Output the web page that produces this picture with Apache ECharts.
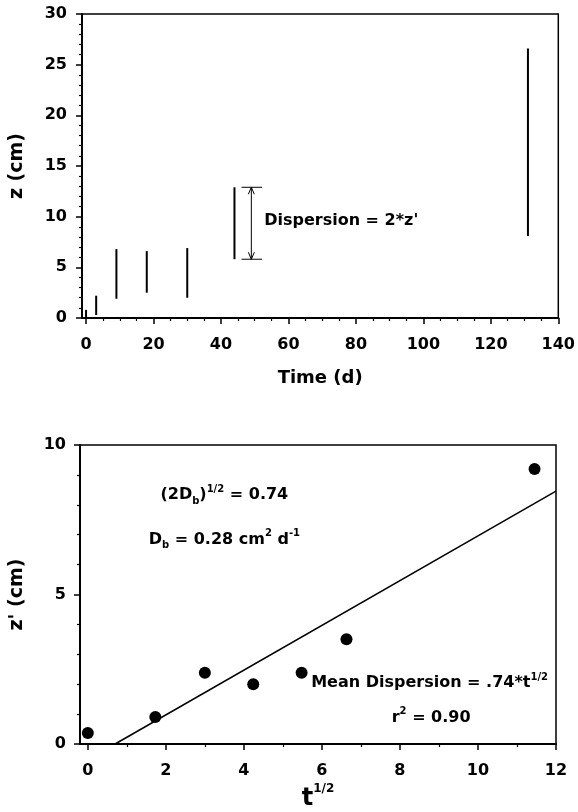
<!DOCTYPE html>
<html>
<head>
<meta charset="utf-8">
<script src="https://cdn.jsdelivr.net/npm/echarts@6/dist/echarts.min.js"></script>
<style>html,body{margin:0;padding:0;background:#fff}#c{width:578px;height:812px}</style>
</head>
<body>
<div id="c"></div>
<script>
// ---- Top panel: depth range vs time ----
const times = [0, 3, 9, 18, 30, 44, 131];
const zLow = [0, 0.3, 1.9, 2.5, 2.0, 5.8, 8.1];
const zHigh = [0.8, 2.2, 6.8, 6.6, 6.9, 12.9, 26.6];
const topXTicks = [0, 20, 40, 60, 80, 100, 120, 140];
const topXMinor = [5, 10, 15, 25, 30, 35, 45, 50, 55, 65, 70, 75, 85, 90, 95, 105, 110, 115, 125, 130, 135];
const arrowT = [49];
const arrowLow = [5.8];
const arrowHigh = [12.9];
const arrowCapL = [46.1];
const arrowCapR = [52.2];
const topNote = ["Dispersion = 2*z'"];
const topNoteX = [52.8];
const topNoteY = [9.55];

// ---- Bottom panel: z' vs t^1/2 ----
const sqrtT = [0, 1.73, 3.0, 4.24, 5.48, 6.63, 11.45];
const zPrime = [0.37, 0.9, 2.38, 2.0, 2.38, 3.5, 9.2];
const fitX = [0.7, 12];
const fitY = [0, 8.46];
const botXTicks = [0, 2, 4, 6, 8, 10, 12];
const botXMinor = [1, 3, 5, 7, 9, 11];
const notes = [
  '(2D{sub|b}){sup|1/2} = 0.74',
  'D{sub|b} = 0.28 cm{sup|2} d{sup|-1}',
  'Mean Dispersion = .74*t{sup|1/2}',
  'r{sup|2} = 0.90'
];
const notesX = [3.5, 3.5, 8.76, 8.8];
const notesY = [8.32, 6.84, 2.04, 0.89];

const FF = "'DejaVu Sans', 'Liberation Sans', Arial, sans-serif";
const black = '#000';
const richSS = {
  sup: {fontSize: 10, fontWeight: 'bold', fontFamily: FF, color: black, verticalAlign: 'top', lineHeight: 10},
  sub: {fontSize: 10, fontWeight: 'bold', fontFamily: FF, color: black, verticalAlign: 'bottom', lineHeight: 10}
};

const chart = echarts.init(document.getElementById('c'), null, {renderer: 'canvas'});

function xAxisCommon(grid, min, max, ticks, name, nameGap, margin) {
  return {
    type: 'value', gridIndex: grid, min: min, max: max,
    name: name, nameLocation: 'middle', nameGap: nameGap,
    nameTextStyle: {fontSize: 18, fontWeight: 'bold', fontFamily: FF, color: black,
      rich: {t: {fontSize: 24, fontWeight: 'bold', fontFamily: FF, color: black, lineHeight: 28, verticalAlign: 'bottom'},
             sup: {fontSize: 12, fontWeight: 'bold', fontFamily: FF, color: black, lineHeight: 12, verticalAlign: 'top'}}},
    axisLine: {show: true, onZero: false, lineStyle: {color: black, width: 2}},
    axisTick: {show: true, inside: false, length: 6, lineStyle: {color: black, width: 1.5}, customValues: ticks},
    axisLabel: {show: true, fontSize: 16, fontWeight: 'bold', fontFamily: FF, color: black, margin: margin, customValues: ticks},
    splitLine: {show: false}, minorTick: {show: false}, minorSplitLine: {show: false}
  };
}
function xMinorAxis(grid, min, max, minors) {
  return {
    type: 'value', gridIndex: grid, min: min, max: max, position: 'bottom',
    axisLine: {show: false},
    axisTick: {show: true, inside: false, length: 3, lineStyle: {color: black, width: 1.2}, customValues: minors},
    axisLabel: {show: false}, splitLine: {show: false}
  };
}
function yAxisCommon(grid, max, interval, name, nameGap, margin) {
  return {
    type: 'value', gridIndex: grid, min: 0, max: max, interval: interval,
    name: name, nameLocation: 'middle', nameGap: nameGap, nameRotate: 90,
    nameTextStyle: {fontSize: 19, fontWeight: 'bold', fontFamily: FF, color: black},
    axisLine: {show: true, onZero: false, lineStyle: {color: black, width: 2}},
    axisTick: {show: true, inside: false, length: 6, lineStyle: {color: black, width: 1.5}},
    minorTick: {show: true, splitNumber: 5, length: 3, lineStyle: {color: black, width: 1.2}},
    axisLabel: {fontSize: 16, fontWeight: 'bold', fontFamily: FF, color: black, margin: margin},
    splitLine: {show: false}, minorSplitLine: {show: false}
  };
}

const option = {
  animation: false,
  backgroundColor: '#fff',
  grid: [
    {left: 80, top: 14, width: 481, height: 304, show: true, borderColor: black, borderWidth: 1.5, backgroundColor: 'transparent'},
    {left: 77, top: 445, width: 479, height: 304, show: true, borderColor: black, borderWidth: 1.5, backgroundColor: 'transparent'}
  ],
  xAxis: [
    xAxisCommon(0, -1.2, 140, topXTicks, 'Time (d)', 51, 19),
    xMinorAxis(0, -1.2, 140, topXMinor),
    xAxisCommon(1, -0.2, 12, botXTicks, '{t|t}{sup|1/2}', 39, 19),
    xMinorAxis(1, -0.2, 12, botXMinor)
  ],
  yAxis: [
    yAxisCommon(0, 30, 5, 'z (cm)', 55, 15),
    yAxisCommon(1, 10, 5, "z' (cm)", 53, 14)
  ],
  series: [
    {
      type: 'custom', xAxisIndex: 0, yAxisIndex: 0,
      data: times.map((t, i) => [t, zLow[i], zHigh[i]]),
      encode: {x: 0, y: [1, 2]},
      renderItem: function (params, api) {
        const p1 = api.coord([api.value(0), api.value(1)]);
        const p2 = api.coord([api.value(0), api.value(2)]);
        return {type: 'line', shape: {x1: p1[0], y1: p1[1], x2: p2[0], y2: p2[1]}, style: {stroke: black, lineWidth: 2}};
      }
    },
    {
      type: 'custom', xAxisIndex: 0, yAxisIndex: 0,
      data: arrowT.map((t, i) => [t, arrowLow[i], arrowHigh[i], arrowCapL[i], arrowCapR[i]]),
      encode: {x: 0, y: [1, 2]},
      renderItem: function (params, api) {
        const lo = api.coord([api.value(0), api.value(1)]);
        const hi = api.coord([api.value(0), api.value(2)]);
        const cl = api.coord([api.value(3), api.value(1)]);
        const cr = api.coord([api.value(4), api.value(2)]);
        const st = {stroke: black, lineWidth: 1, fill: null};
        const ah = 7, aw = 3;
        return {
          type: 'group',
          children: [
            {type: 'line', shape: {x1: lo[0], y1: lo[1], x2: hi[0], y2: hi[1]}, style: st},
            {type: 'line', shape: {x1: cl[0], y1: lo[1], x2: cr[0], y2: lo[1]}, style: st},
            {type: 'line', shape: {x1: cl[0], y1: hi[1], x2: cr[0], y2: hi[1]}, style: st},
            {type: 'polyline', shape: {points: [[hi[0] - aw, hi[1] + ah], [hi[0], hi[1]], [hi[0] + aw, hi[1] + ah]]}, style: st},
            {type: 'polyline', shape: {points: [[lo[0] - aw, lo[1] - ah], [lo[0], lo[1]], [lo[0] + aw, lo[1] - ah]]}, style: st}
          ]
        };
      }
    },
    {
      type: 'scatter', xAxisIndex: 0, yAxisIndex: 0, symbolSize: 0, silent: true,
      itemStyle: {opacity: 1},
      data: topNote.map((s, i) => ({value: [topNoteX[i], topNoteY[i]], name: s})),
      label: {show: true, position: 'right', distance: 0, formatter: p => p.name,
        fontSize: 16, fontWeight: 'bold', fontFamily: FF, color: black}
    },
    {
      type: 'line', xAxisIndex: 2, yAxisIndex: 1, showSymbol: false, symbol: 'none',
      data: fitX.map((x, i) => [x, fitY[i]]),
      lineStyle: {color: black, width: 1.5}
    },
    {
      type: 'scatter', xAxisIndex: 2, yAxisIndex: 1, symbol: 'circle', symbolSize: 12,
      itemStyle: {color: black, opacity: 1},
      data: sqrtT.map((x, i) => [x, zPrime[i]])
    },
    {
      type: 'scatter', xAxisIndex: 2, yAxisIndex: 1, symbolSize: 0, silent: true,
      itemStyle: {opacity: 1},
      data: notes.map((s, i) => ({value: [notesX[i], notesY[i]], name: s})),
      label: {show: true, position: 'inside', formatter: p => p.name,
        fontSize: 16, fontWeight: 'bold', fontFamily: FF, color: black, lineHeight: 22, rich: richSS}
    }
  ]
};
chart.setOption(option);
</script>
</body>
</html>
